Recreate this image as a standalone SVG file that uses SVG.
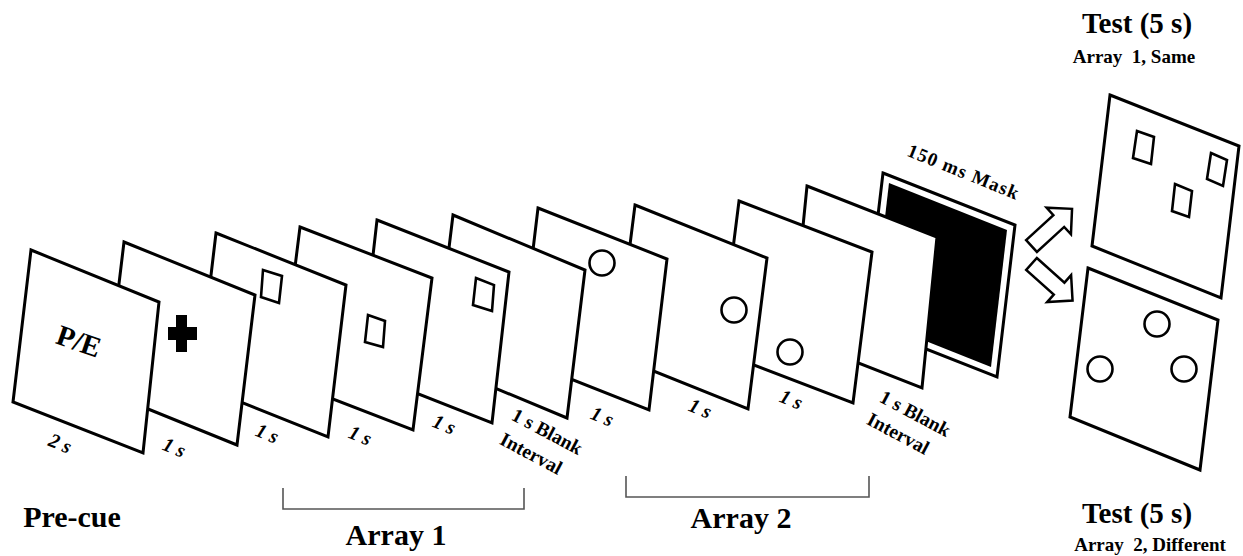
<svg xmlns="http://www.w3.org/2000/svg" width="1243" height="556" viewBox="0 0 1243 556">
<style>
.panel{fill:#fff;stroke:#000;stroke-width:3;stroke-linejoin:miter}
.shape{fill:none;stroke:#000;stroke-width:2.6}
.dur{font-family:"Liberation Serif",serif;font-weight:bold;font-style:italic;font-size:20px;text-anchor:middle;fill:#000}
.blank{font-family:"Liberation Serif",serif;font-weight:bold;font-size:19.5px;text-anchor:middle;fill:#000}
.big{font-family:"Liberation Serif",serif;font-weight:bold;font-size:30px;text-anchor:middle;fill:#000}
.sub{font-family:"Liberation Serif",serif;font-weight:bold;font-size:19px;text-anchor:middle;fill:#000}
.arrow{fill:#fff;stroke:#000;stroke-width:2.5;stroke-linejoin:miter}
.bracket{fill:none;stroke:#555;stroke-width:1.6}
</style>
<rect width="1243" height="556" fill="#fff"/>

<g id="mask">
<polygon class="panel" points="883,173 1015,225 997,377 865,325"/>
<polygon fill="#000" points="889,183 1007,230 991,367 873,320"/>
<text class="sub" transform="translate(963,172) rotate(22)" y="6" textLength="118">150 ms Mask</text>
</g>
<g id="blank2">
<polygon class="panel" points="807,186 937,237 922,388 792,337"/>
<text class="blank" transform="translate(915,414) rotate(28)" y="6">1 s Blank</text>
<text class="blank" transform="translate(898,434) rotate(28)" y="6">Interval</text>
</g>
<g id="a2c3">
<polygon class="panel" points="739,201 872,252 853,403 720,352"/>
<circle class="shape" cx="790" cy="352" r="12.5"/>
<text class="dur" transform="translate(791,400) rotate(22)" y="6">1 s</text>
</g>
<g id="a2c2">
<polygon class="panel" points="635,205 767,258 748,409 616,356"/>
<circle class="shape" cx="734" cy="310" r="12.5"/>
<text class="dur" transform="translate(700,409) rotate(22)" y="6">1 s</text>
</g>
<g id="a2c1">
<polygon class="panel" points="538,208 667,259 649,410 520,359"/>
<circle class="shape" cx="602" cy="263" r="12.5"/>
<text class="dur" transform="translate(602,417) rotate(22)" y="6">1 s</text>
</g>
<g id="blank1">
<polygon class="panel" points="453,215 585,270 567,418 435,363"/>
<text class="blank" transform="translate(547,432) rotate(28)" y="6">1 s Blank</text>
<text class="blank" transform="translate(531,454) rotate(28)" y="6">Interval</text>
</g>
<g id="a1r3">
<polygon class="panel" points="377,220 509,272 492,423 360,371"/>
<polygon class="shape" points="476,278 494,285 492,311 473,305"/>
<text class="dur" transform="translate(444,425) rotate(22)" y="6">1 s</text>
</g>
<g id="a1r2">
<polygon class="panel" points="300,227 432,278 413,430 281,379"/>
<polygon class="shape" points="368,315 385,321 383,347 365,342"/>
<text class="dur" transform="translate(360,436) rotate(22)" y="6">1 s</text>
</g>
<g id="a1r1">
<polygon class="panel" points="216,233 346,285 328,437 198,385"/>
<polygon class="shape" points="263,270 282,276 279,303 261,297"/>
<text class="dur" transform="translate(267,434) rotate(22)" y="6">1 s</text>
</g>
<g id="fixation">
<polygon class="panel" points="124,242 255,295 237,445 106,392"/>
<polygon fill="#000" points="176,315 187,315 187,327 197,327 197,340 187,340 187,352 176,352 176,340 168,340 168,327 176,327"/>
<text class="dur" transform="translate(174,448) rotate(22)" y="6">1 s</text>
</g>
<g id="precue">
<polygon class="panel" points="31,250 159,302 143,453 13,402"/>
<text class="big" style="font-size:29px" transform="translate(79,341) rotate(19)" y="10">P/E</text>
<text class="dur" transform="translate(60,444) rotate(22)" y="6">2 s</text>
</g>

<g id="test1">
<polygon class="panel" points="1110,95 1239,146 1221,298 1092,246"/>
<polygon class="shape" points="1137,131 1154,137 1151,164 1133,158"/>
<polygon class="shape" points="1211,153 1227,160 1223,186 1207,179"/>
<polygon class="shape" points="1175,184 1192,191 1189,217 1172,211"/>
<text class="big" x="1137" y="33" style="font-size:29px">Test (5 s)</text>
<text class="sub" x="1134" y="63" xml:space="preserve">Array  1, Same</text>
</g>
<g id="test2">
<polygon class="panel" points="1088,268 1218,320 1200,470 1070,417"/>
<circle class="shape" cx="1157" cy="324" r="12.5"/>
<circle class="shape" cx="1100" cy="369" r="12.5"/>
<circle class="shape" cx="1184" cy="369" r="12.5"/>
<text class="big" x="1137" y="523" style="font-size:29px">Test (5 s)</text>
<text class="sub" x="1150" y="551" xml:space="preserve">Array  2, Different</text>
</g>

<g id="connectors">
<polygon class="arrow" transform="translate(1031.5,246) rotate(-42.5)" points="0,-8 37,-8 37,-18 55,0 37,18 37,8 0,8"/>
<polygon class="arrow" transform="translate(1031.5,264) rotate(41.7)" points="0,-8 37,-8 37,-18 55,0 37,18 37,8 0,8"/>
</g>

<g id="labels">
<text class="big" x="72" y="527">Pre-cue</text>
<path class="bracket" d="M283,488 V509 H524 V488"/>
<text class="big" x="396" y="545">Array 1</text>
<path class="bracket" d="M626,476 V497 H869 V476"/>
<text class="big" x="741" y="528">Array 2</text>
</g>
</svg>
